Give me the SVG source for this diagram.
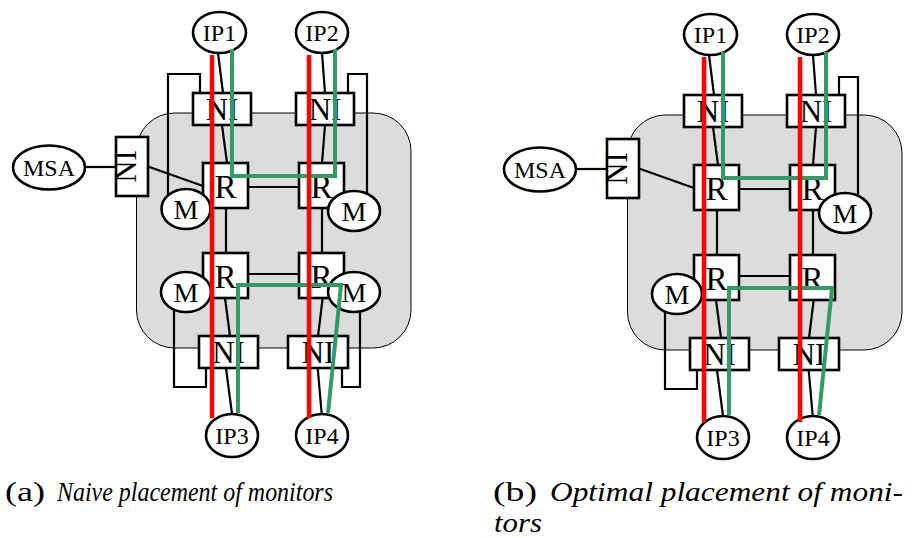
<svg xmlns="http://www.w3.org/2000/svg" width="916" height="538" viewBox="0 0 916 538" font-family="Liberation Serif, Times New Roman, serif">
  <style>
    .chip { fill: #dcdcdc; stroke: #000; stroke-width: 1; }
    .box { fill: #fff; stroke: #000; stroke-width: 2.6; }
    .node { fill: #fff; stroke: #000; stroke-width: 2.6; }
    .wire { fill: none; stroke: #000; stroke-width: 2.2; }
    .red { fill: none; stroke: #ff0000; stroke-width: 4.5; }
    .green { fill: none; stroke: #339966; stroke-width: 4; stroke-linejoin: miter; }
    text { fill: #000; text-anchor: middle; }
    .ip { font-size: 24px; }
    .ni { font-size: 31px; }
    .r { font-size: 33px; }
    .m { font-size: 28px; }
    .cap { font-size: 27px; text-anchor: start; }
    .it { font-style: italic; }
  </style>

  <!-- ===== Panel (a): naive placement ===== -->
  <g id="panel-a">
    <rect id="a-chip" class="chip" x="136.5" y="113" width="274.5" height="235" rx="38"/>

    <g id="a-connectors">
      <line class="wire" x1="85" y1="167" x2="116" y2="167"/>
      <line class="wire" x1="148" y1="166.5" x2="203" y2="186"/>
      <line class="wire" x1="218" y1="53" x2="223" y2="93"/>
      <line class="wire" x1="222" y1="125" x2="227" y2="163"/>
      <line class="wire" x1="322" y1="53" x2="325" y2="93"/>
      <line class="wire" x1="325" y1="125" x2="322" y2="163"/>
      <line class="wire" x1="248" y1="187" x2="299" y2="187"/>
      <line class="wire" x1="226" y1="208" x2="226" y2="253"/>
      <line class="wire" x1="322" y1="208" x2="322" y2="253"/>
      <line class="wire" x1="248" y1="274" x2="299" y2="274"/>
      <line class="wire" x1="225" y1="298" x2="230" y2="336"/>
      <line class="wire" x1="226" y1="368" x2="232" y2="414"/>
      <line class="wire" x1="322.7" y1="298" x2="318" y2="336"/>
      <line class="wire" x1="317.7" y1="368" x2="321.7" y2="414"/>
      <!-- monitor taps -->
      <polyline class="wire" points="168,200 168,74 200,74 200,93"/>
      <polyline class="wire" points="348,93 348,74 367,74 367,200"/>
      <polyline class="wire" points="174,300 174,387 206,387 206,368"/>
      <polyline class="wire" points="342,368 342,387 360,387 360,300"/>
    </g>

    <g id="a-msa"><ellipse class="node" cx="49" cy="167.5" rx="36" ry="22"/><text class="ip" x="49" y="176">MSA</text></g>
    <g id="a-ni-msa"><rect class="box" x="116" y="137" width="32" height="59"/><text class="ni" x="136" y="166.5" transform="rotate(-90 136 166.5)" font-size="30">NI</text></g>

    <g id="a-ni1"><rect class="box" x="193" y="93" width="58" height="32"/><text class="ni" x="222" y="120">NI</text></g>
    <g id="a-ni2"><rect class="box" x="296" y="93" width="58" height="32"/><text class="ni" x="325" y="120">NI</text></g>
    <g id="a-ni3"><rect class="box" x="199" y="336" width="59" height="32"/><text class="ni" x="228.5" y="363">NI</text></g>
    <g id="a-ni4"><rect class="box" x="288" y="336" width="60" height="32"/><text class="ni" x="318" y="363">NI</text></g>

    <g id="a-r1"><rect class="box" x="203" y="163" width="45" height="45"/><text class="r" x="225.5" y="198">R</text></g>
    <g id="a-r2"><rect class="box" x="299" y="163" width="45" height="45"/><text class="r" x="321.5" y="198">R</text></g>
    <g id="a-r3"><rect class="box" x="203" y="253" width="45" height="45"/><text class="r" x="225.5" y="288">R</text></g>
    <g id="a-r4"><rect class="box" x="299" y="253" width="45" height="45"/><text class="r" x="321.5" y="288">R</text></g>

    <g id="a-m1"><ellipse class="node" cx="186" cy="209" rx="24.5" ry="20"/><text class="m" x="186" y="219">M</text></g>
    <g id="a-m2"><ellipse class="node" cx="354" cy="211" rx="26" ry="20"/><text class="m" x="354" y="221">M</text></g>
    <g id="a-m3"><ellipse class="node" cx="186" cy="292" rx="25" ry="20"/><text class="m" x="186" y="302">M</text></g>
    <g id="a-m4"><ellipse class="node" cx="354" cy="292" rx="26" ry="20"/><text class="m" x="354" y="302">M</text></g>

    <g id="a-ip1"><ellipse class="node" cx="219.5" cy="32.5" rx="26.5" ry="20.5"/><text class="ip" x="219.5" y="41">IP1</text></g>
    <g id="a-ip2"><ellipse class="node" cx="322" cy="32.5" rx="26" ry="20.5"/><text class="ip" x="322" y="41">IP2</text></g>
    <g id="a-ip3"><ellipse class="node" cx="232" cy="435.5" rx="26" ry="21.5"/><text class="ip" x="232" y="444">IP3</text></g>
    <g id="a-ip4"><ellipse class="node" cx="322" cy="435.5" rx="26" ry="21.5"/><text class="ip" x="322" y="444">IP4</text></g>

    <g id="a-paths">
      <polyline class="green" points="232,49 232,176 335,176 335,49"/>
      <polyline class="green" points="238,413 238,285 341,285 328,413"/>
      <line class="red" x1="212" y1="55" x2="212" y2="418"/>
      <line class="red" x1="309" y1="55" x2="309" y2="418"/>
    </g>
  </g>

  <!-- ===== Panel (b): optimal placement ===== -->
  <g id="panel-b" transform="translate(491,2)">
    <rect id="b-chip" class="chip" x="136.5" y="113" width="274.5" height="235" rx="38"/>

    <g id="b-connectors">
      <line class="wire" x1="85" y1="167" x2="116" y2="167"/>
      <line class="wire" x1="148" y1="166.5" x2="203" y2="186"/>
      <line class="wire" x1="218" y1="53" x2="223" y2="93"/>
      <line class="wire" x1="222" y1="125" x2="227" y2="163"/>
      <line class="wire" x1="322" y1="53" x2="325" y2="93"/>
      <line class="wire" x1="325" y1="125" x2="322" y2="163"/>
      <line class="wire" x1="248" y1="187" x2="299" y2="187"/>
      <line class="wire" x1="226" y1="208" x2="226" y2="253"/>
      <line class="wire" x1="322" y1="208" x2="322" y2="253"/>
      <line class="wire" x1="248" y1="274" x2="299" y2="274"/>
      <line class="wire" x1="225" y1="298" x2="230" y2="336"/>
      <line class="wire" x1="226" y1="368" x2="232" y2="414"/>
      <line class="wire" x1="322.7" y1="298" x2="318" y2="336"/>
      <line class="wire" x1="317.7" y1="368" x2="321.7" y2="414"/>
      <!-- monitor taps -->
      <polyline class="wire" points="348,93 348,75 367,75 367,200"/>
      <polyline class="wire" points="174,300 174,387 206,387 206,368"/>
    </g>

    <g id="b-msa"><ellipse class="node" cx="49" cy="167.5" rx="36" ry="22"/><text class="ip" x="49" y="176">MSA</text></g>
    <g id="b-ni-msa"><rect class="box" x="116" y="137" width="32" height="59"/><text class="ni" x="136" y="166.5" transform="rotate(-90 136 166.5)" font-size="30">NI</text></g>

    <g id="b-ni1"><rect class="box" x="193" y="93" width="58" height="32"/><text class="ni" x="222" y="120">NI</text></g>
    <g id="b-ni2"><rect class="box" x="296" y="93" width="58" height="32"/><text class="ni" x="325" y="120">NI</text></g>
    <g id="b-ni3"><rect class="box" x="199" y="336" width="59" height="32"/><text class="ni" x="228.5" y="363">NI</text></g>
    <g id="b-ni4"><rect class="box" x="288" y="336" width="60" height="32"/><text class="ni" x="318" y="363">NI</text></g>

    <g id="b-r1"><rect class="box" x="203" y="163" width="45" height="45"/><text class="r" x="225.5" y="198">R</text></g>
    <g id="b-r2"><rect class="box" x="299" y="163" width="45" height="45"/><text class="r" x="321.5" y="198">R</text></g>
    <g id="b-r3"><rect class="box" x="203" y="253" width="45" height="45"/><text class="r" x="225.5" y="288">R</text></g>
    <g id="b-r4"><rect class="box" x="299" y="253" width="45" height="45"/><text class="r" x="321.5" y="288">R</text></g>

    <g id="b-m2"><ellipse class="node" cx="354" cy="211" rx="26" ry="20"/><text class="m" x="354" y="221">M</text></g>
    <g id="b-m3"><ellipse class="node" cx="186" cy="292" rx="25" ry="20"/><text class="m" x="186" y="302">M</text></g>

    <g id="b-ip1"><ellipse class="node" cx="219.5" cy="32.5" rx="26.5" ry="20.5"/><text class="ip" x="219.5" y="41">IP1</text></g>
    <g id="b-ip2"><ellipse class="node" cx="322" cy="32.5" rx="26" ry="20.5"/><text class="ip" x="322" y="41">IP2</text></g>
    <g id="b-ip3"><ellipse class="node" cx="232" cy="435.5" rx="26" ry="21.5"/><text class="ip" x="232" y="444">IP3</text></g>
    <g id="b-ip4"><ellipse class="node" cx="322" cy="435.5" rx="26" ry="21.5"/><text class="ip" x="322" y="444">IP4</text></g>

    <g id="b-paths">
      <polyline class="green" points="232,50 232,176 335,176 335,50"/>
      <polyline class="green" points="238,413 238,286 341,286 328,413"/>
      <line class="red" x1="213" y1="55" x2="213" y2="420"/>
      <line class="red" x1="309" y1="55" x2="309" y2="420"/>
    </g>
  </g>

  <!-- ===== Captions ===== -->
  <g id="captions">
    <text class="cap" x="5" y="501" textLength="40" lengthAdjust="spacingAndGlyphs">(a)</text>
    <text class="cap it" x="57" y="501" textLength="276" lengthAdjust="spacingAndGlyphs">Naive placement of monitors</text>
    <text class="cap" x="493" y="501" textLength="44" lengthAdjust="spacingAndGlyphs">(b)</text>
    <text class="cap it" x="550" y="501" textLength="353" lengthAdjust="spacingAndGlyphs">Optimal placement of moni-</text>
    <text class="cap it" x="494" y="532" textLength="48" lengthAdjust="spacingAndGlyphs">tors</text>
  </g>
</svg>
